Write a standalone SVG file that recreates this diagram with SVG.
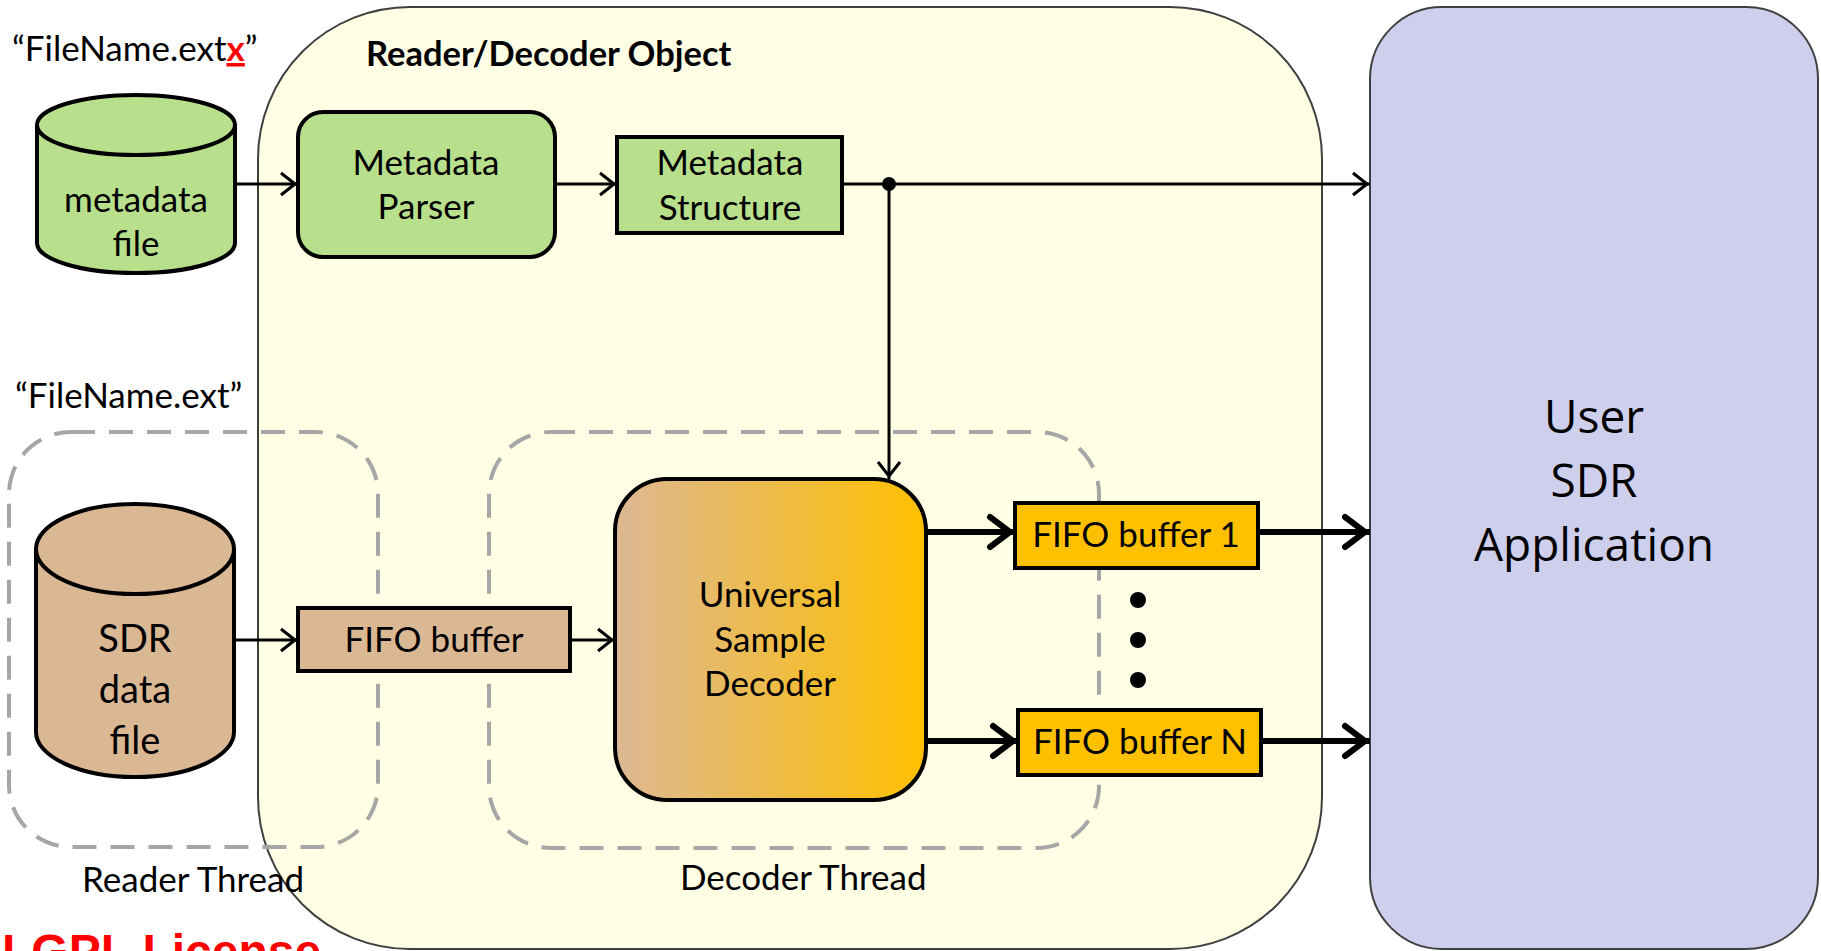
<svg xmlns="http://www.w3.org/2000/svg" width="1821" height="951" viewBox="0 0 1821 951">
  <style>
    .lbl { font-family: Lato, "Liberation Sans", sans-serif; font-size: 35px; fill: #000; }
    .mid { text-anchor: middle; }
    .big { font-size: 38px; }
    .app { font-family: "Open Sans", "Noto Sans", sans-serif; font-size: 46px; fill: #000; text-anchor: middle; }
    .title { font-family: Lato, "Liberation Sans", sans-serif; font-size: 34.5px; font-weight: bold; fill: #000; }
    .green { fill: #b8df8c; stroke: #000; stroke-width: 4; }
    .tan { fill: #dbb894; stroke: #000; stroke-width: 4; }
    .gold { fill: #ffc000; stroke: #000; stroke-width: 4; }
    .thread { fill: none; stroke: #a6a6a6; stroke-width: 4; stroke-dasharray: 24 14; }
    .thin { fill: none; stroke: #000; stroke-width: 3; }
    .thick { fill: none; stroke: #000; stroke-width: 6; }
  </style>
  <defs>
    <linearGradient id="decGrad" x1="0" y1="0" x2="1" y2="0">
      <stop offset="0" stop-color="#dcb894"/>
      <stop offset="1" stop-color="#ffc000"/>
    </linearGradient>
    <marker id="arrowThin" markerUnits="userSpaceOnUse" orient="auto" refX="0" refY="0" markerWidth="30" markerHeight="30" style="overflow:visible">
      <path d="M-17,-11 L-3,0 L-17,11" fill="none" stroke="#000" stroke-width="3"/>
    </marker>
    <marker id="arrowThick" markerUnits="userSpaceOnUse" orient="auto" refX="0" refY="0" markerWidth="40" markerHeight="40" style="overflow:visible">
      <path d="M-25,-15 L-5,0 L-25,15" fill="none" stroke="#000" stroke-width="6" stroke-linecap="round"/>
    </marker>
  </defs>

  <rect width="1821" height="951" fill="#fff"/>

  <!-- containers -->
  <g id="reader-decoder-object">
    <rect x="258" y="7" width="1064" height="942" rx="152" ry="152" fill="#ffffe6" stroke="#404040" stroke-width="2"/>
    <text class="title" x="366" y="66">Reader/Decoder Object</text>
  </g>
  <g id="user-sdr-application">
    <rect x="1370" y="7" width="448" height="942" rx="72" ry="72" fill="#cecfec" stroke="#404040" stroke-width="2"/>
    <text class="app" x="1594" y="433">User</text>
    <text class="app" x="1594" y="497">SDR</text>
    <text class="app" x="1594" y="561">Application</text>
  </g>
  <g id="reader-thread">
    <rect class="thread" x="9" y="432" width="369" height="415" rx="62" ry="62"/>
    <text class="lbl" x="82" y="892">Reader Thread</text>
  </g>
  <g id="decoder-thread">
    <rect class="thread" x="489" y="432" width="610" height="416" rx="62" ry="62"/>
    <text class="lbl" x="680" y="890">Decoder Thread</text>
  </g>

  <!-- file names -->
  <text class="lbl" x="12" y="61">“FileName.ext<tspan fill="#ff0000" font-weight="bold" text-decoration="underline">x</tspan>”</text>
  <text class="lbl" x="15" y="408">“FileName.ext”</text>

  <!-- nodes -->
  <g id="metadata-file">
    <path class="green" d="M37,125 V243 A99,30 0 0 0 235,243 V125"/>
    <ellipse class="green" cx="136" cy="125" rx="99" ry="30"/>
    <text class="lbl mid" x="136" y="212">metadata</text>
    <text class="lbl mid" x="136" y="256">file</text>
  </g>
  <g id="metadata-parser">
    <rect class="green" x="298" y="112" width="257" height="145" rx="25" ry="25"/>
    <text class="lbl mid" x="426" y="175">Metadata</text>
    <text class="lbl mid" x="426" y="219">Parser</text>
  </g>
  <g id="metadata-structure">
    <rect class="green" x="617" y="137" width="225" height="96"/>
    <text class="lbl mid" x="730" y="175">Metadata</text>
    <text class="lbl mid" x="730" y="220">Structure</text>
  </g>
  <g id="sdr-data-file">
    <path class="tan" d="M36,549 V732 A99,45 0 0 0 234,732 V549"/>
    <ellipse class="tan" cx="135" cy="549" rx="99" ry="45"/>
    <text class="lbl big mid" x="135" y="652">SDR</text>
    <text class="lbl big mid" x="135" y="703">data</text>
    <text class="lbl big mid" x="135" y="754">file</text>
  </g>
  <g id="fifo-buffer">
    <rect class="tan" x="298" y="608" width="272" height="63"/>
    <text class="lbl mid" x="434" y="652">FIFO buffer</text>
  </g>
  <g id="universal-sample-decoder">
    <rect x="615" y="479" width="311" height="321" rx="52" ry="52" fill="url(#decGrad)" stroke="#000" stroke-width="4"/>
    <text class="lbl mid" x="770" y="607">Universal</text>
    <text class="lbl mid" x="770" y="652">Sample</text>
    <text class="lbl mid" x="770" y="696">Decoder</text>
  </g>
  <g id="fifo-buffer-1">
    <rect class="gold" x="1015" y="503" width="243" height="65"/>
    <text class="lbl mid" x="1136" y="547">FIFO buffer 1</text>
  </g>
  <g id="fifo-buffer-n">
    <rect class="gold" x="1018" y="710" width="243" height="65"/>
    <text class="lbl mid" x="1140" y="754">FIFO buffer N</text>
  </g>
  <g id="ellipsis">
    <circle cx="1138" cy="600" r="8"/>
    <circle cx="1138" cy="640" r="8"/>
    <circle cx="1138" cy="680" r="8"/>
  </g>

  <!-- connectors -->
  <g id="connectors">
    <path class="thin" d="M235,184 H298" marker-end="url(#arrowThin)"/>
    <path class="thin" d="M555,184 H617" marker-end="url(#arrowThin)"/>
    <path class="thin" d="M842,184 H1370" marker-end="url(#arrowThin)"/>
    <circle cx="889" cy="184" r="7" fill="#000"/>
    <path class="thin" d="M889,184 V479" marker-end="url(#arrowThin)"/>
    <path class="thin" d="M234,640 H298" marker-end="url(#arrowThin)"/>
    <path class="thin" d="M570,640 H615" marker-end="url(#arrowThin)"/>
    <path class="thick" d="M926,532 H1015" marker-end="url(#arrowThick)"/>
    <path class="thick" d="M926,741 H1018" marker-end="url(#arrowThick)"/>
    <path class="thick" d="M1258,532 H1370" marker-end="url(#arrowThick)"/>
    <path class="thick" d="M1261,741 H1370" marker-end="url(#arrowThick)"/>
  </g>

  <!-- license note -->
  <text x="2" y="968" font-family="'Liberation Sans', Arial, sans-serif" font-size="48" font-weight="bold" fill="#ff0000">LGPL License</text>
</svg>
